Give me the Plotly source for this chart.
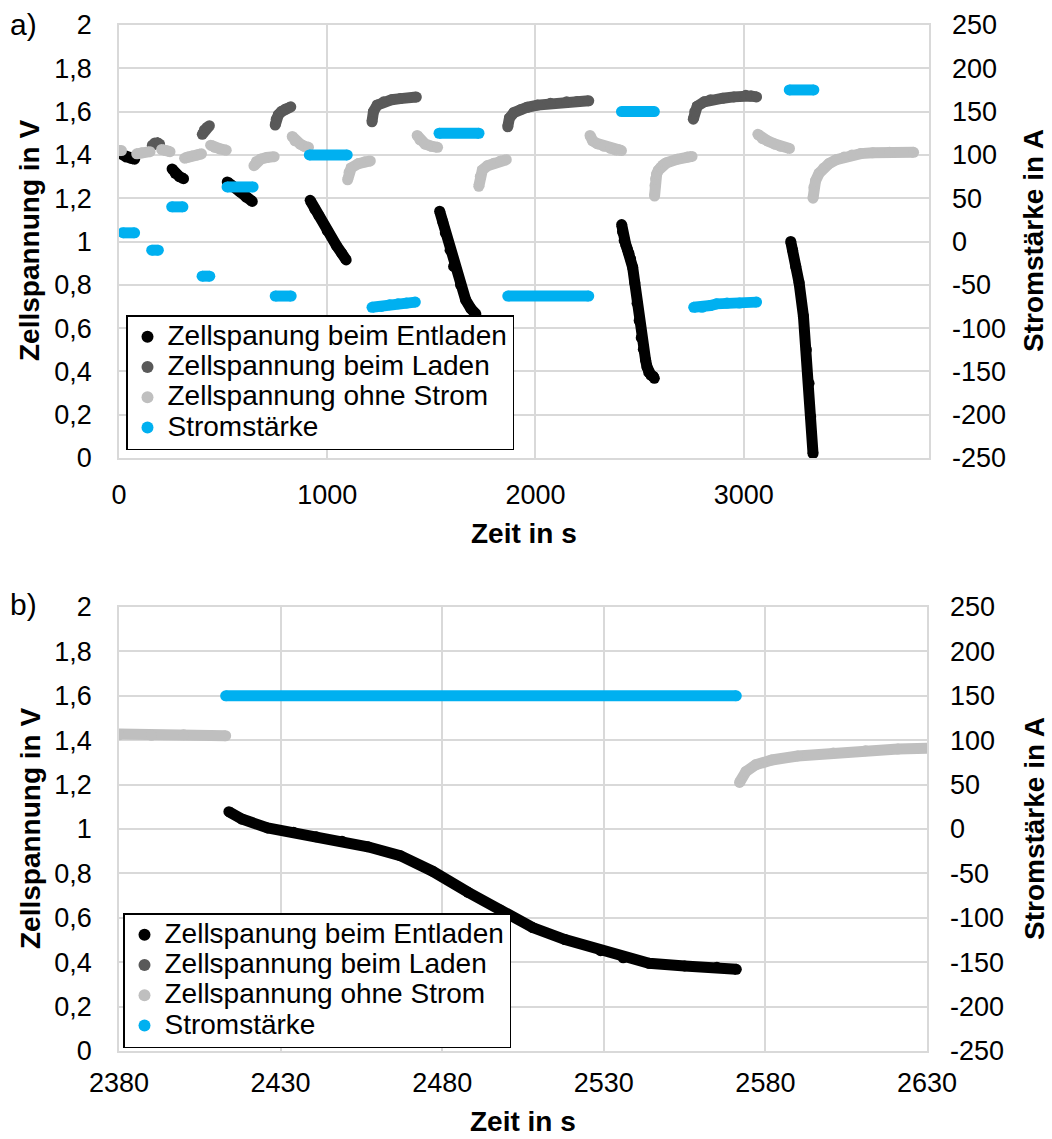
import plotly.graph_objects as go

# ------------------------------------------------------------------
# Data; each inner list = one segment
# ------------------------------------------------------------------
entladen_t = [
    [18, 35, 55, 75],
    [255, 270, 290, 310],
    [520, 540, 580, 610, 640],
    [918, 940, 960, 1000, 1045, 1070, 1091],
    [1540, 1555, 1567, 1590, 1607, 1640, 1665, 1690, 1714],
    [2414, 2418, 2426, 2434, 2441, 2449, 2457, 2467, 2477, 2488, 2498, 2508,
     2518, 2529, 2536, 2544, 2555, 2565, 2571],
    [3226, 3235, 3250, 3266, 3287, 3301, 3314, 3322, 3333],
]
entladen_u = [
    [1.40, 1.39, 1.385, 1.38],
    [1.335, 1.315, 1.30, 1.29],
    [1.275, 1.26, 1.23, 1.205, 1.185],
    [1.19, 1.15, 1.12, 1.05, 0.98, 0.945, 0.915],
    [1.14, 1.09, 1.04, 0.96, 0.885, 0.80, 0.73, 0.69, 0.665],
    [1.078, 1.045, 1.005, 0.985, 0.965, 0.945, 0.92, 0.88, 0.81, 0.715, 0.635, 0.556,
     0.502, 0.452, 0.42, 0.395, 0.383, 0.377, 0.368],
    [1.00, 0.96, 0.885, 0.81, 0.655, 0.50, 0.345, 0.19, 0.02],
]

laden_t = [
    [160, 172, 185, 195],
    [400, 410, 422, 434],
    [750, 755, 765, 780, 800, 825],
    [1215, 1222, 1240, 1271, 1310, 1351, 1428],
    [1867, 1875, 1896, 1930, 1960, 2010, 2072, 2150, 2200, 2256],
    [2758, 2765, 2777, 2810, 2841, 2900, 2953, 3010, 3035, 3062],
]
laden_u = [
    [1.445, 1.455, 1.455, 1.45],
    [1.495, 1.515, 1.527, 1.535],
    [1.538, 1.565, 1.585, 1.60, 1.612, 1.622],
    [1.553, 1.60, 1.63, 1.645, 1.655, 1.66, 1.667],
    [1.53, 1.57, 1.595, 1.61, 1.62, 1.63, 1.638, 1.645, 1.647, 1.65],
    [1.565, 1.60, 1.625, 1.645, 1.655, 1.662, 1.668, 1.675, 1.672, 1.668],
]

ruhe_t = [
    [0, 12],
    [85, 110, 149],
    [205, 225, 245],
    [315, 330, 350, 375, 396],
    [440, 460, 485, 515],
    [648, 660, 680, 710, 745],
    [832, 845, 870, 890, 910],
    [1098, 1105, 1115, 1150, 1180, 1207],
    [1432, 1445, 1470, 1500, 1530],
    [1728, 1735, 1745, 1770, 1800, 1832, 1860],
    [2262, 2275, 2297, 2330, 2360, 2380, 2390, 2400, 2413],
    [2572, 2574, 2577, 2582, 2590, 2601, 2611, 2621, 2631, 2680, 2729, 2752],
    [3068, 3090, 3114, 3150, 3178, 3220],
    [3333, 3337, 3345, 3362, 3385, 3410, 3445, 3482, 3520, 3562, 3620, 3700, 3816],
]
ruhe_u = [
    [1.42, 1.42],
    [1.405, 1.41, 1.415],
    [1.425, 1.42, 1.415],
    [1.385, 1.39, 1.395, 1.40, 1.405],
    [1.445, 1.435, 1.428, 1.422],
    [1.35, 1.37, 1.38, 1.388, 1.392],
    [1.485, 1.465, 1.45, 1.44, 1.435],
    [1.285, 1.32, 1.34, 1.36, 1.368, 1.372],
    [1.49, 1.47, 1.45, 1.44, 1.435],
    [1.255, 1.30, 1.33, 1.35, 1.362, 1.372, 1.378],
    [1.49, 1.465, 1.452, 1.44, 1.43, 1.424, 1.422, 1.424, 1.42],
    [1.21, 1.259, 1.289, 1.311, 1.329, 1.342, 1.353, 1.36, 1.364, 1.38, 1.39, 1.393],
    [1.495, 1.475, 1.465, 1.45, 1.44, 1.43],
    [1.20, 1.25, 1.28, 1.315, 1.34, 1.36, 1.378, 1.39, 1.40, 1.406, 1.41, 1.412, 1.412],
]

strom_t = [
    [18, 75],
    [157, 189],
    [253, 307],
    [399, 436],
    [519, 644],
    [750, 827],
    [914, 1096],
    [1215, 1260, 1300, 1340, 1380, 1423],
    [1537, 1729],
    [1867, 2256],
    [2413, 2571],
    [2760, 2800, 2840, 2870, 2920, 2980, 3062],
    [3219, 3337],
]
strom_i = [
    [10, 10],
    [-10, -10],
    [40, 40],
    [-40, -40],
    [63, 63],
    [-63, -63],
    [100, 100],
    [-76, -75, -73, -72, -71, -70],
    [125, 125],
    [-63, -63],
    [150, 150],
    [-76, -76, -74, -72, -71, -71, -70],
    [175, 175],
]

series_names = ["Zellspanung beim Entladen", "Zellspannung beim Laden",
                "Zellspannung ohne Strom", "Stromstärke"]

x_ticks_a = [0, 1000, 2000, 3000]
x_ticks_b = [2380, 2430, 2480, 2530, 2580, 2630]
u_ticks = [0, 0.2, 0.4, 0.6, 0.8, 1.0, 1.2, 1.4, 1.6, 1.8, 2.0]
u_ticklabels = ["0", "0,2", "0,4", "0,6", "0,8", "1", "1,2", "1,4", "1,6", "1,8", "2"]
i_ticks = [-250, -200, -150, -100, -50, 0, 50, 100, 150, 200, 250]
i_ticklabels = ["-250", "-200", "-150", "-100", "-50", "0", "50", "100", "150", "200", "250"]

# ------------------------------------------------------------------
# Styling
# ------------------------------------------------------------------
W, H = 1052, 1139
FONT = "Liberation Sans, Arial, sans-serif"
colors = ["#000000", "#595959", "#bfbfbf", "#00b0f0"]
GRID = "#d9d9d9"
MSIZE = 11


def flat(segs):
    out = []
    for i, s in enumerate(segs):
        if i:
            out.append(None)
        out.extend(s)
    return out


def px_x(p):
    return p / W


def px_y(p):
    return 1 - p / H


series = [
    (entladen_t, entladen_u, False),
    (laden_t, laden_u, False),
    (ruhe_t, ruhe_u, False),
    (strom_t, strom_i, True),
]

fig = go.Figure()

panels = [
    dict(x="x", y="y", y2="y2", legend="legend"),
    dict(x="x2", y="y3", y2="y4", legend="legend2"),
]

for p in panels:
    for k, (tt, vv, sec) in enumerate(series):
        fig.add_trace(go.Scatter(
            x=flat(tt), y=flat(vv), mode="lines+markers",
            line=dict(color=colors[k], width=MSIZE),
            marker=dict(color=colors[k], size=MSIZE),
            connectgaps=False, showlegend=False, hoverinfo="skip",
            xaxis=p["x"], yaxis=p["y2"] if sec else p["y"],
        ))
    # legend entries
    for k, name in enumerate(series_names):
        fig.add_trace(go.Scatter(
            x=[None], y=[None], mode="markers",
            name='<span style="font-size:28px">' + name + '</span>',
            marker=dict(color=colors[k], size=9),
            xaxis=p["x"], yaxis=p["y"], legend=p["legend"],
        ))

tickfont = dict(family=FONT, size=27, color="#000000")


def xaxis(domain, anchor, rng, ticks, standoff):
    return dict(domain=domain, anchor=anchor, range=rng, tickmode="array",
                tickvals=ticks, ticktext=[str(t) for t in ticks],
                showgrid=True, gridcolor=GRID, gridwidth=1.5, zeroline=False,
                showline=True, linecolor=GRID, linewidth=1.5, mirror=True,
                ticks="", tickfont=tickfont, ticklabelstandoff=standoff,
                automargin=False, fixedrange=True)


def yaxis(domain, anchor):
    return dict(domain=domain, anchor=anchor, range=[0, 2], tickmode="array",
                tickvals=u_ticks, ticktext=u_ticklabels,
                showgrid=True, gridcolor=GRID, gridwidth=1.5, zeroline=False,
                showline=True, linecolor=GRID, linewidth=1.5, mirror=True,
                ticks="", tickfont=tickfont, ticklabelstandoff=20,
                automargin=False, fixedrange=True)


def y2axis(over, anchor):
    return dict(overlaying=over, anchor=anchor, side="right", range=[-250, 250],
                tickmode="array", tickvals=i_ticks, ticktext=i_ticklabels,
                showgrid=False, zeroline=False, showline=False,
                ticks="", tickfont=tickfont, ticklabelstandoff=22,
                automargin=False, fixedrange=True)


top_x = [px_x(119), px_x(929)]
top_y = [px_y(458), px_y(25)]
bot_x = [px_x(119), px_x(927)]
bot_y = [px_y(1051), px_y(607)]

legend_style = dict(xanchor="left", yanchor="bottom", bgcolor="white",
                    bordercolor="black", borderwidth=1.5,
                    font=dict(family=FONT, size=21, color="#000000"),
                    itemsizing="constant", tracegroupgap=0)

fig.update_layout(
    width=W, height=H,
    margin=dict(l=0, r=0, t=0, b=0),
    paper_bgcolor="white", plot_bgcolor="white",
    separators=",.",
    font=dict(family=FONT, size=27, color="#000000"),
    showlegend=True,
    xaxis=xaxis(top_x, "y", [0, 3890], x_ticks_a, 12),
    yaxis=yaxis(top_y, "x"),
    yaxis2=y2axis("y", "x"),
    xaxis2=xaxis(bot_x, "y3", [2380, 2630], x_ticks_b, 7),
    yaxis3=yaxis(bot_y, "x2"),
    yaxis4=y2axis("y3", "x2"),
    legend=dict(x=px_x(126), y=px_y(450), **legend_style),
    legend2=dict(x=px_x(123), y=px_y(1048), **legend_style),
)

ann_font_b = dict(family=FONT, size=28, color="#000000")
annotations = [
    dict(text="a)", x=px_x(8), y=px_y(24), xanchor="left", yanchor="middle",
         font=dict(family=FONT, size=30, color="#000000")),
    dict(text="b)", x=px_x(8), y=px_y(604), xanchor="left", yanchor="middle",
         font=dict(family=FONT, size=30, color="#000000")),
    dict(text="<b>Zellspannung in V</b>", x=px_x(30), y=px_y(241), textangle=-90,
         xanchor="center", yanchor="middle", font=ann_font_b),
    dict(text="<b>Stromstärke in A</b>", x=px_x(1034), y=px_y(241), textangle=-90,
         xanchor="center", yanchor="middle", font=ann_font_b),
    dict(text="<b>Zeit in s</b>", x=px_x(524), y=px_y(533),
         xanchor="center", yanchor="middle", font=ann_font_b),
    dict(text="<b>Zellspannung in V</b>", x=px_x(30), y=px_y(829), textangle=-90,
         xanchor="center", yanchor="middle", font=ann_font_b),
    dict(text="<b>Stromstärke in A</b>", x=px_x(1034), y=px_y(829), textangle=-90,
         xanchor="center", yanchor="middle", font=ann_font_b),
    dict(text="<b>Zeit in s</b>", x=px_x(523), y=px_y(1121),
         xanchor="center", yanchor="middle", font=ann_font_b),
]
for a in annotations:
    a.update(xref="paper", yref="paper", showarrow=False)
fig.update_layout(annotations=annotations)

fig.write_html("out.html")
